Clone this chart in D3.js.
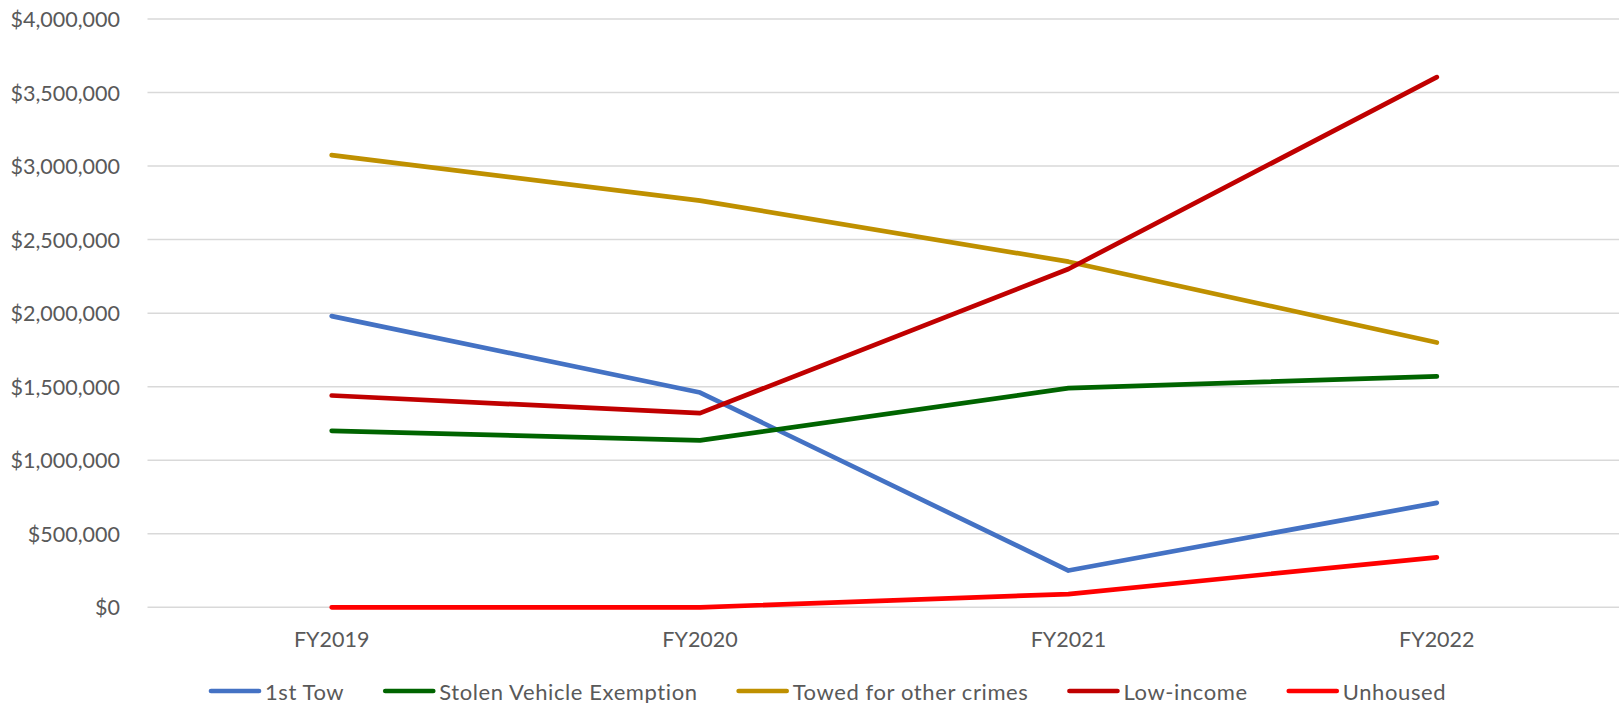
<!DOCTYPE html>
<html>
<head>
<meta charset="utf-8">
<script src="https://cdn.jsdelivr.net/npm/d3@7"></script>
<style>
  body { margin: 0; background: #fff; }
  text { font-family: Lato, "Open Sans", sans-serif; fill: #595959; }
</style>
</head>
<body>
<svg></svg>
<script>
const W = 1619, H = 703;
const PLOT = { left: 147.5, right: 1621, top: 19, bottom: 607.3 };
const FONT = "21.5px";

// data
const years = ["FY2019", "FY2020", "FY2021", "FY2022"];
const seriesNames = ["1st Tow", "Stolen Vehicle Exemption", "Towed for other crimes", "Low-income", "Unhoused"];
const seriesColors = ["#4472C4", "#006400", "#BF9000", "#C00000", "#FF0000"];
const firstTow = [1980000, 1460000, 250000, 710000];
const stolenVehicle = [1200000, 1135000, 1490000, 1570000];
const towedOther = [3075000, 2765000, 2350000, 1800000];
const lowIncome = [1440000, 1320000, 2300000, 3605000];
const unhoused = [0, 0, 90000, 340000];
const yTicks = [0, 500000, 1000000, 1500000, 2000000, 2500000, 3000000, 3500000, 4000000];

const seriesValues = [firstTow, stolenVehicle, towedOther, lowIncome, unhoused];

var svg = d3.select("svg").attr("width", W).attr("height", H);

var x = d3.scalePoint().domain(years).range([PLOT.left, PLOT.right]).padding(0.5);
var y = d3.scaleLinear().domain([0, 4000000]).range([PLOT.bottom, PLOT.top]);

// gridlines
svg.append("g").selectAll("line").data(yTicks).enter().append("line")
    .attr("x1", PLOT.left).attr("x2", W)
    .attr("y1", d => y(d)).attr("y2", d => y(d))
    .attr("stroke", "#d9d9d9").attr("stroke-width", 1.5);

// y axis labels
var fmt = d3.format("$,.0f");
svg.append("g").selectAll("text").data(yTicks).enter().append("text")
    .attr("x", 120).attr("y", d => y(d))
    .attr("text-anchor", "end").attr("dominant-baseline", "central")
    .style("font-size", FONT)
    .text(d => fmt(d));

// x axis labels
svg.append("g").selectAll("text").data(years).enter().append("text")
    .attr("x", d => x(d)).attr("y", 639)
    .attr("text-anchor", "middle").attr("dominant-baseline", "central")
    .style("font-size", FONT)
    .text(d => d);

// lines
var line = d3.line().x((d, i) => x(years[i])).y(d => y(d));
svg.append("g").selectAll("path").data(seriesValues).enter().append("path")
    .attr("d", d => line(d))
    .attr("fill", "none")
    .attr("stroke", (d, i) => seriesColors[i])
    .attr("stroke-width", 4.7)
    .attr("stroke-linecap", "round")
    .attr("stroke-linejoin", "round");

// legend
var legend = svg.append("g");
var lx = 211, ly = 691;
seriesNames.forEach(function(name, i) {
    legend.append("line")
        .attr("x1", lx).attr("x2", lx + 48)
        .attr("y1", ly).attr("y2", ly)
        .attr("stroke", seriesColors[i]).attr("stroke-width", 4.7)
        .attr("stroke-linecap", "round");
    var t = legend.append("text")
        .attr("x", lx + 54).attr("y", ly)
        .attr("dominant-baseline", "central")
        .style("font-size", "22px")
        .style("letter-spacing", "0.6px")
        .text(name);
    lx = lx + 54 + t.node().getComputedTextLength() + 41;
});
</script>
</body>
</html>
